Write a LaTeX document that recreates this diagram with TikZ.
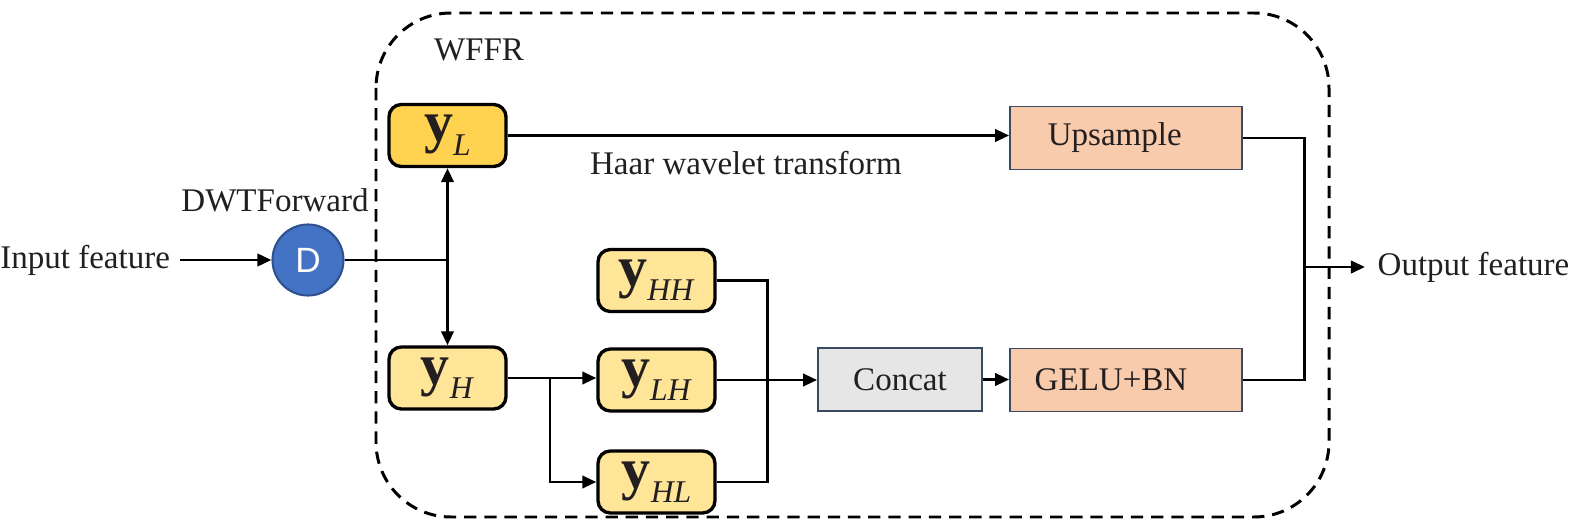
\documentclass[tikz,border=0pt]{standalone}
\usepackage{fontspec}
\setmainfont{Liberation Serif}
\newfontfamily\dfont{Liberation Sans}
\usepackage{tikz}
\usetikzlibrary{arrows.meta,positioning,calc}
\usepackage{xcolor}
\definecolor{ygold}{HTML}{FFD34F}
\definecolor{ylight}{HTML}{FFE598}
\definecolor{peach}{HTML}{F8CBAD}
\definecolor{catgray}{HTML}{E7E6E6}
\definecolor{boxedge}{HTML}{3B4A63}
\definecolor{dblue}{HTML}{4472C4}
\definecolor{dedge}{HTML}{2F528F}
\definecolor{txt}{HTML}{231F20}

\newcommand{\ysub}[1]{{\fontsize{33}{35}\selectfont\textbf{y}}\raisebox{-8pt}{\fontsize{18}{20}\selectfont\textit{#1}}}

\begin{document}
\begin{tikzpicture}[x=0.02cm, y=-0.02cm, >={Triangle[length=8pt,width=7pt]},
    font=\fontsize{18.8}{22}\selectfont, text=txt,
    conn/.style={line width=1.7pt, black},
    ybox/.style={draw=black, line width=1.9pt, rounded corners=7pt, fill=ylight,
        minimum width=2.34cm, minimum height=1.24cm, inner sep=0pt},
    opbox/.style={draw=boxedge, line width=1pt, fill=peach,
        minimum width=4.64cm, minimum height=1.26cm, inner sep=0pt},
    lbl/.style={inner sep=5pt}]
    \useasboundingbox (0,0) rectangle (1573,524);

    % Frame
    \draw[line width=1.7pt, dash pattern=on 7pt off 4.5pt, rounded corners=1.5cm]
        (376,13) rectangle (1329,517);
    \node[lbl, anchor=center] (wffr) at (479,50) {WFFR};

    % Nodes
    \node[lbl, anchor=east, inner xsep=5.5pt] (inp) at (180,260) {Input feature};
    \node[circle, draw=dedge, line width=1.2pt, fill=dblue, minimum size=1.42cm,
        text=white, font=\dfont\fontsize{20}{22}\selectfont] (dwt) at (308,260) {D};
    \node[lbl] (dwtname) at (275,200) {DWTForward};

    \node[ybox, fill=ygold] (yL) at (447.5,135.5) {\ysub{L}};
    \node[ybox] (yH) at (447.5,378) {\ysub{H}};
    \node[ybox] (yHH) at (656.5,280.5) {\ysub{HH}};
    \node[ybox] (yLH) at (656.5,380) {\ysub{LH}};
    \node[ybox] (yHL) at (656.5,482) {\ysub{HL}};

    \node[draw=boxedge, line width=1pt, fill=catgray, minimum width=3.28cm,
        minimum height=1.26cm, inner sep=0pt] (cat) at (900,379.5) {Concat};
    \node[opbox] (up) at (1126,138) {\hspace*{-0.45cm}Upsample};
    \node[opbox] (gelu) at (1126,380) {\hspace*{-0.6cm}GELU+BN};
    \node[lbl] (haar) at (746,163) {Haar wavelet transform};
    \node[lbl, anchor=west, inner xsep=7pt] (outp) at (1365,267) {Output feature};

    % Coordinates
    \coordinate (split) at (447.5,260);
    \coordinate (hsplit) at (550,378);
    \coordinate (mrg) at (767,482);
    \coordinate (jn) at (1304,267);

    % Connectors
    \draw[conn, ->] (inp.east) -- (dwt.west);
    \draw[conn] (dwt.east) -- (split);
    \draw[conn, ->] (split) -- (yL.south);
    \draw[conn, ->] (split) -- (yH.north);
    \draw[conn, ->] (yL.east) -- (yL.east -| up.west);
    \draw[conn] (yH.east) -- (hsplit);
    \draw[conn, ->] (hsplit) -- (hsplit -| yLH.west);
    \draw[conn, ->] (hsplit) |- (yHL.west);
    \draw[conn] (yHH.east) -| (mrg) -- (yHL.east);
    \draw[conn, ->] (yLH.east) -- (yLH.east -| cat.west);
    \draw[conn, ->] (cat.east) -- (cat.east -| gelu.west);
    \draw[conn] (up.east) -| (jn) |- (gelu.east);
    \draw[conn, ->] (jn) -- (outp.west);
\end{tikzpicture}
\end{document}
